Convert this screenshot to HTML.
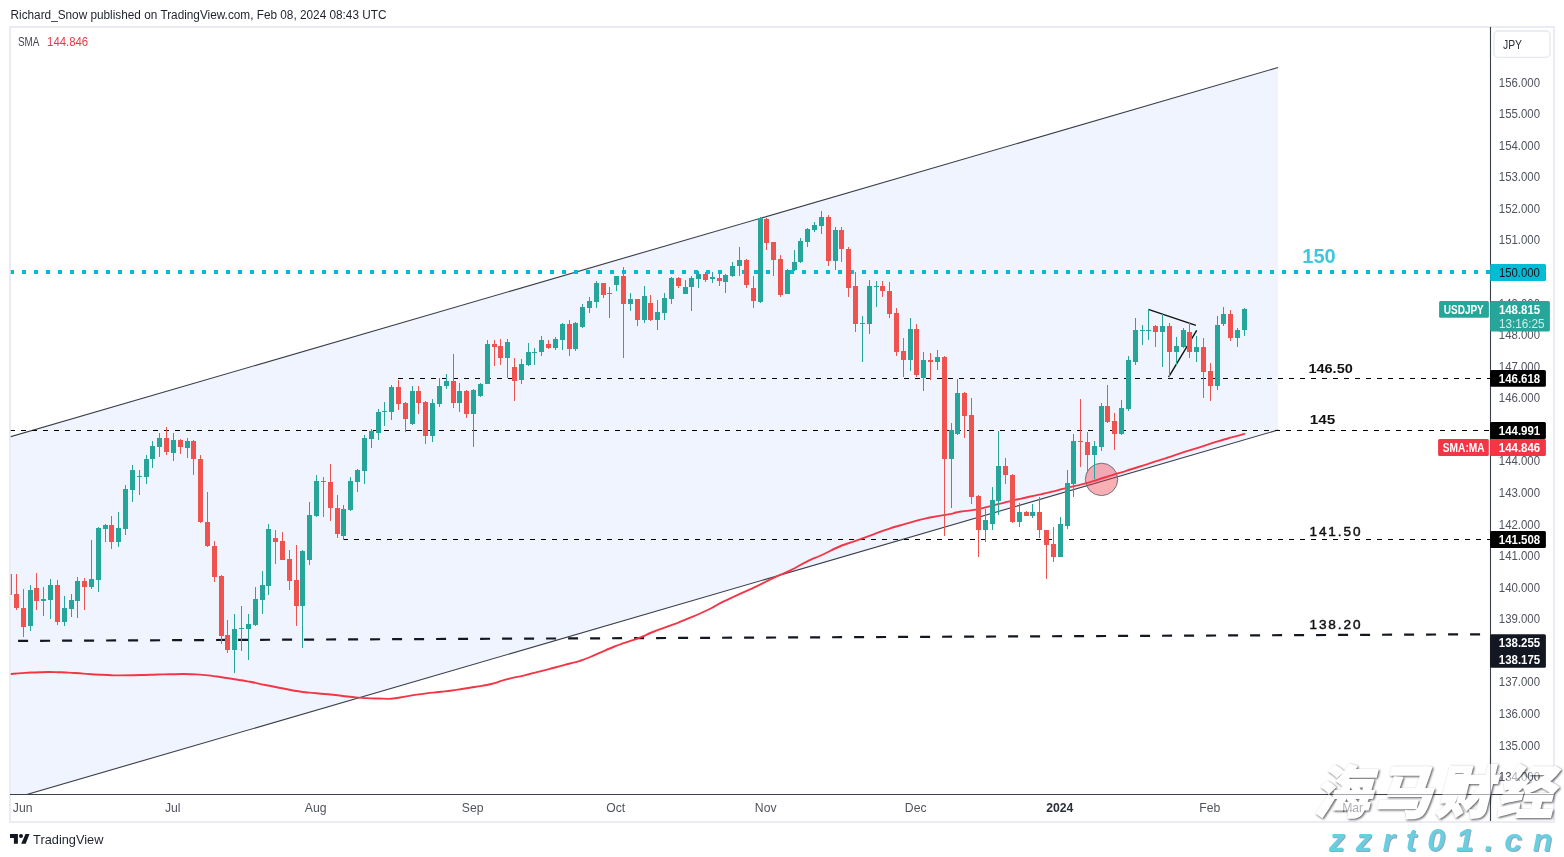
<!DOCTYPE html>
<html lang="en"><head><meta charset="utf-8"><title>USDJPY chart</title>
<style>html,body{margin:0;padding:0;background:#fff}body{width:1564px;height:857px;overflow:hidden;position:relative;font-family:"Liberation Sans", sans-serif}svg{display:block;position:absolute;left:0;top:0}text{font-family:"Liberation Sans", sans-serif}</style></head><body>
<svg width="1564" height="857" viewBox="0 0 1564 857">
<defs><clipPath id="plot"><rect x="10.8" y="28" width="1479.2" height="766"/></clipPath></defs>
<rect x="0" y="0" width="1564" height="857" fill="#fff"/>
<rect x="10" y="27" width="1544" height="795" fill="none" stroke="#e9ebf3" stroke-width="1.9"/>
<text x="10.5" y="18.8" font-size="12" fill="#1e222d" textLength="376" lengthAdjust="spacingAndGlyphs">Richard_Snow published on TradingView.com, Feb 08, 2024 08:43 UTC</text>
<g clip-path="url(#plot)">
<polygon points="0.0,439.8 1278.0,67.5 1278.0,430.0 0.0,802.3" fill="#f0f4fe"/>
<line x1="0" y1="439.8" x2="1278" y2="67.5" stroke="#3a3e4a" stroke-width="1.1"/>
<line x1="0" y1="802.3" x2="1278" y2="430.0" stroke="#3a3e4a" stroke-width="1.1"/>
<line x1="10" y1="272" x2="1490" y2="272" stroke="#00bcd4" stroke-width="4" stroke-dasharray="4 8"/>
<line x1="398" y1="378.5" x2="1490" y2="378.5" stroke="#000" stroke-width="1.2" stroke-dasharray="5 6"/>
<line x1="10" y1="430.5" x2="1490" y2="430.5" stroke="#000" stroke-width="1.2" stroke-dasharray="5 6"/>
<line x1="343" y1="539.5" x2="1490" y2="539.5" stroke="#000" stroke-width="1.2" stroke-dasharray="5 6"/>
<line x1="18.1" y1="640.9" x2="1484" y2="634.3" stroke="#131722" stroke-width="2.2" stroke-dasharray="10 12"/>
<circle cx="1101.5" cy="479.4" r="16.2" fill="#f23645" fill-opacity="0.4" stroke="#6f727b" stroke-width="1"/>
<line x1="1148.3" y1="309.4" x2="1195.9" y2="325.4" stroke="#111" stroke-width="1.4"/>
<line x1="1168.6" y1="377.1" x2="1196.7" y2="330.3" stroke="#111" stroke-width="1.4"/>
<path d="M10.3 674.0C15.2 673.6 14.5 673.5 24.9 672.9C35.3 672.3 30.5 672.4 41.6 672.2C52.7 672.0 47.1 671.9 58.2 672.2C69.3 672.5 63.7 672.3 74.8 673.0C85.9 673.7 80.3 673.5 91.4 674.2C102.5 674.9 98.7 674.6 108.1 675.0C117.5 675.4 108.6 675.4 119.7 675.4C130.8 675.4 128.6 675.3 141.3 675.0C154.0 674.7 146.8 674.8 157.9 674.5C169.0 674.2 163.5 674.3 174.6 674.2C185.7 674.1 180.1 673.8 191.2 674.2C202.3 674.6 196.7 674.2 207.8 675.4C218.9 676.6 213.3 676.1 224.4 677.7C235.5 679.3 232.6 678.9 241.1 680.3C249.6 681.7 241.5 680.2 250.0 681.8C258.5 683.4 255.5 683.0 266.6 685.2C277.7 687.4 272.2 686.4 283.3 688.5C294.4 690.6 288.8 689.9 299.9 691.5C311.0 693.1 305.4 692.1 316.5 693.2C327.6 694.3 322.0 693.6 333.1 694.8C344.2 696.0 338.7 695.7 349.8 696.8C360.9 697.9 355.3 697.5 366.4 698.1C377.5 698.7 374.1 698.5 383.0 698.6C391.9 698.7 384.7 699.3 393.0 698.5C401.3 697.7 397.4 697.7 407.9 696.1C418.4 694.5 413.5 695.0 424.6 693.6C435.7 692.2 430.1 693.1 441.2 691.8C452.3 690.5 446.7 691.2 457.8 689.6C468.9 688.0 463.3 688.9 474.4 687.0C485.5 685.1 480.4 686.5 491.1 684.0C501.8 681.5 494.7 682.5 506.5 679.4C518.3 676.3 512.6 678.2 526.5 674.8C540.4 671.4 534.3 672.9 548.1 669.3C561.9 665.7 556.4 667.2 568.0 664.0C579.6 660.8 573.0 663.3 583.0 659.8C593.0 656.3 587.4 658.0 597.9 653.6C608.4 649.2 603.5 650.8 614.6 646.5C625.7 642.2 621.8 644.0 631.2 640.7C640.6 637.4 635.6 639.4 642.8 636.5C650.0 633.6 642.8 636.0 652.8 632.0C662.8 628.0 661.7 628.8 672.8 624.6C683.9 620.4 674.7 624.1 686.0 619.4C697.3 614.7 694.2 616.4 706.6 610.5C719.0 604.6 712.2 607.2 723.3 601.7C734.4 596.2 728.8 599.0 739.9 593.9C751.0 588.8 745.4 591.7 756.5 586.4C767.6 581.1 762.0 583.4 773.1 578.1C784.2 572.8 778.7 576.0 789.8 570.6C800.9 565.2 795.3 567.2 806.4 561.8C817.5 556.4 811.9 559.6 823.0 554.5C834.1 549.4 828.5 551.1 839.6 546.5C850.7 541.9 845.2 544.7 856.3 540.7C867.4 536.7 861.8 538.6 872.9 534.6C884.0 530.6 878.4 532.2 889.5 528.6C900.6 525.0 895.0 526.9 906.1 523.7C917.2 520.5 911.7 521.7 922.8 519.1C933.9 516.5 930.3 517.6 939.4 515.9C948.5 514.2 943.2 515.5 950.0 514.1C956.8 512.7 951.2 513.3 959.8 511.8C968.4 510.3 965.8 511.4 975.7 509.6C985.6 507.8 978.4 509.1 989.6 506.3C1000.8 503.5 996.2 504.5 1009.4 501.3C1022.6 498.1 1016.0 499.8 1029.2 496.8C1042.4 493.8 1036.5 495.4 1049.1 492.4C1061.7 489.4 1054.3 490.9 1066.9 487.8C1079.5 484.7 1074.2 486.5 1086.8 483.1C1099.4 479.7 1094.0 480.8 1104.6 477.5C1115.2 474.2 1107.3 476.7 1118.5 473.2C1129.7 469.7 1125.1 471.2 1138.3 467.0C1151.5 462.8 1145.0 465.0 1158.2 460.7C1171.4 456.4 1164.8 458.4 1178.0 454.1C1191.2 449.8 1184.6 452.0 1197.8 447.8C1211.0 443.6 1205.8 445.0 1217.7 441.4C1229.6 437.8 1224.6 439.4 1233.5 436.9C1242.4 434.4 1240.8 434.9 1244.4 433.9" fill="none" stroke="#f23645" stroke-width="1.9" stroke-linejoin="round" stroke-linecap="round"/>
<rect x="9.0" y="573" width="1" height="23" fill="#ef5350"/><rect x="7.0" y="574" width="5" height="21" fill="#ef5350"/>
<rect x="16.0" y="574" width="1" height="36" fill="#ef5350"/><rect x="14.0" y="594" width="5" height="14" fill="#ef5350"/>
<rect x="23.0" y="589" width="1" height="48" fill="#ef5350"/><rect x="21.0" y="608" width="5" height="19" fill="#ef5350"/>
<rect x="30.0" y="585" width="1" height="46" fill="#26a69a"/><rect x="28.0" y="590" width="5" height="36" fill="#26a69a"/>
<rect x="36.0" y="573" width="1" height="37" fill="#ef5350"/><rect x="34.0" y="588" width="5" height="13" fill="#ef5350"/>
<rect x="43.0" y="587" width="1" height="29" fill="#26a69a"/><rect x="41.0" y="599" width="5" height="2" fill="#26a69a"/>
<rect x="50.0" y="579" width="1" height="40" fill="#26a69a"/><rect x="48.0" y="585" width="5" height="15" fill="#26a69a"/>
<rect x="57.0" y="580" width="1" height="45" fill="#ef5350"/><rect x="55.0" y="585" width="5" height="37" fill="#ef5350"/>
<rect x="64.0" y="596" width="1" height="30" fill="#26a69a"/><rect x="62.0" y="608" width="5" height="14" fill="#26a69a"/>
<rect x="71.0" y="594" width="1" height="23" fill="#26a69a"/><rect x="69.0" y="600" width="5" height="9" fill="#26a69a"/>
<rect x="77.0" y="577" width="1" height="41" fill="#26a69a"/><rect x="75.0" y="581" width="5" height="20" fill="#26a69a"/>
<rect x="84.0" y="578" width="1" height="32" fill="#ef5350"/><rect x="82.0" y="581" width="5" height="6" fill="#ef5350"/>
<rect x="91.0" y="540" width="1" height="49" fill="#26a69a"/><rect x="89.0" y="579" width="5" height="8" fill="#26a69a"/>
<rect x="98.0" y="527" width="1" height="65" fill="#26a69a"/><rect x="96.0" y="528" width="5" height="52" fill="#26a69a"/>
<rect x="105.0" y="524" width="1" height="18" fill="#26a69a"/><rect x="103.0" y="525" width="5" height="4" fill="#26a69a"/>
<rect x="111.0" y="516" width="1" height="33" fill="#ef5350"/><rect x="109.0" y="525" width="5" height="17" fill="#ef5350"/>
<rect x="118.0" y="512" width="1" height="35" fill="#26a69a"/><rect x="116.0" y="528" width="5" height="14" fill="#26a69a"/>
<rect x="125.0" y="485" width="1" height="50" fill="#26a69a"/><rect x="123.0" y="489" width="5" height="40" fill="#26a69a"/>
<rect x="132.0" y="465" width="1" height="37" fill="#26a69a"/><rect x="130.0" y="470" width="5" height="20" fill="#26a69a"/>
<rect x="139.0" y="470" width="1" height="25" fill="#26a69a"/><rect x="137.0" y="476" width="5" height="1" fill="#26a69a"/>
<rect x="146.0" y="455" width="1" height="29" fill="#26a69a"/><rect x="144.0" y="459" width="5" height="18" fill="#26a69a"/>
<rect x="152.0" y="441" width="1" height="27" fill="#26a69a"/><rect x="150.0" y="446" width="5" height="13" fill="#26a69a"/>
<rect x="159.0" y="433" width="1" height="24" fill="#26a69a"/><rect x="157.0" y="438" width="5" height="9" fill="#26a69a"/>
<rect x="166.0" y="427" width="1" height="28" fill="#ef5350"/><rect x="164.0" y="438" width="5" height="14" fill="#ef5350"/>
<rect x="173.0" y="433" width="1" height="28" fill="#26a69a"/><rect x="171.0" y="440" width="5" height="13" fill="#26a69a"/>
<rect x="180.0" y="439" width="1" height="15" fill="#ef5350"/><rect x="178.0" y="440" width="5" height="7" fill="#ef5350"/>
<rect x="187.0" y="438" width="1" height="20" fill="#26a69a"/><rect x="185.0" y="441" width="5" height="7" fill="#26a69a"/>
<rect x="193.0" y="440" width="1" height="35" fill="#ef5350"/><rect x="191.0" y="441" width="5" height="18" fill="#ef5350"/>
<rect x="200.0" y="455" width="1" height="68" fill="#ef5350"/><rect x="198.0" y="459" width="5" height="63" fill="#ef5350"/>
<rect x="207.0" y="492" width="1" height="55" fill="#ef5350"/><rect x="205.0" y="522" width="5" height="24" fill="#ef5350"/>
<rect x="214.0" y="541" width="1" height="41" fill="#ef5350"/><rect x="212.0" y="546" width="5" height="31" fill="#ef5350"/>
<rect x="221.0" y="575" width="1" height="69" fill="#ef5350"/><rect x="219.0" y="576" width="5" height="60" fill="#ef5350"/>
<rect x="227.0" y="620" width="1" height="33" fill="#ef5350"/><rect x="225.0" y="635" width="5" height="15" fill="#ef5350"/>
<rect x="234.0" y="614" width="1" height="59" fill="#26a69a"/><rect x="232.0" y="629" width="5" height="21" fill="#26a69a"/>
<rect x="241.0" y="606" width="1" height="45" fill="#26a69a"/><rect x="239.0" y="628" width="5" height="1" fill="#26a69a"/>
<rect x="248.0" y="614" width="1" height="46" fill="#26a69a"/><rect x="246.0" y="624" width="5" height="5" fill="#26a69a"/>
<rect x="255.0" y="587" width="1" height="39" fill="#26a69a"/><rect x="253.0" y="599" width="5" height="26" fill="#26a69a"/>
<rect x="262.0" y="571" width="1" height="43" fill="#26a69a"/><rect x="260.0" y="585" width="5" height="15" fill="#26a69a"/>
<rect x="268.0" y="524" width="1" height="71" fill="#26a69a"/><rect x="266.0" y="529" width="5" height="57" fill="#26a69a"/>
<rect x="275.0" y="530" width="1" height="34" fill="#ef5350"/><rect x="273.0" y="538" width="5" height="4" fill="#ef5350"/>
<rect x="282.0" y="532" width="1" height="28" fill="#ef5350"/><rect x="280.0" y="541" width="5" height="19" fill="#ef5350"/>
<rect x="289.0" y="550" width="1" height="40" fill="#ef5350"/><rect x="287.0" y="559" width="5" height="22" fill="#ef5350"/>
<rect x="296.0" y="545" width="1" height="81" fill="#ef5350"/><rect x="294.0" y="580" width="5" height="26" fill="#ef5350"/>
<rect x="302.0" y="550" width="1" height="98" fill="#26a69a"/><rect x="300.0" y="551" width="5" height="55" fill="#26a69a"/>
<rect x="309.0" y="502" width="1" height="63" fill="#26a69a"/><rect x="307.0" y="515" width="5" height="45" fill="#26a69a"/>
<rect x="316.0" y="475" width="1" height="42" fill="#26a69a"/><rect x="314.0" y="481" width="5" height="35" fill="#26a69a"/>
<rect x="323.0" y="477" width="1" height="40" fill="#ef5350"/><rect x="321.0" y="481" width="5" height="1" fill="#ef5350"/>
<rect x="330.0" y="464" width="1" height="57" fill="#ef5350"/><rect x="328.0" y="482" width="5" height="26" fill="#ef5350"/>
<rect x="337.0" y="495" width="1" height="43" fill="#ef5350"/><rect x="335.0" y="508" width="5" height="26" fill="#ef5350"/>
<rect x="343.0" y="505" width="1" height="35" fill="#26a69a"/><rect x="341.0" y="509" width="5" height="27" fill="#26a69a"/>
<rect x="350.0" y="477" width="1" height="34" fill="#26a69a"/><rect x="348.0" y="481" width="5" height="29" fill="#26a69a"/>
<rect x="357.0" y="469" width="1" height="23" fill="#26a69a"/><rect x="355.0" y="470" width="5" height="12" fill="#26a69a"/>
<rect x="364.0" y="435" width="1" height="49" fill="#26a69a"/><rect x="362.0" y="438" width="5" height="33" fill="#26a69a"/>
<rect x="371.0" y="429" width="1" height="19" fill="#26a69a"/><rect x="369.0" y="431" width="5" height="8" fill="#26a69a"/>
<rect x="378.0" y="409" width="1" height="31" fill="#26a69a"/><rect x="376.0" y="412" width="5" height="21" fill="#26a69a"/>
<rect x="384.0" y="402" width="1" height="24" fill="#26a69a"/><rect x="382.0" y="411" width="5" height="1" fill="#26a69a"/>
<rect x="391.0" y="385" width="1" height="35" fill="#26a69a"/><rect x="389.0" y="387" width="5" height="25" fill="#26a69a"/>
<rect x="398.0" y="380" width="1" height="30" fill="#ef5350"/><rect x="396.0" y="387" width="5" height="17" fill="#ef5350"/>
<rect x="405.0" y="402" width="1" height="30" fill="#ef5350"/><rect x="403.0" y="403" width="5" height="16" fill="#ef5350"/>
<rect x="412.0" y="386" width="1" height="39" fill="#26a69a"/><rect x="410.0" y="391" width="5" height="33" fill="#26a69a"/>
<rect x="418.0" y="386" width="1" height="28" fill="#ef5350"/><rect x="416.0" y="391" width="5" height="12" fill="#ef5350"/>
<rect x="425.0" y="401" width="1" height="43" fill="#ef5350"/><rect x="423.0" y="402" width="5" height="34" fill="#ef5350"/>
<rect x="432.0" y="399" width="1" height="43" fill="#26a69a"/><rect x="430.0" y="403" width="5" height="33" fill="#26a69a"/>
<rect x="439.0" y="378" width="1" height="29" fill="#26a69a"/><rect x="437.0" y="386" width="5" height="18" fill="#26a69a"/>
<rect x="446.0" y="374" width="1" height="15" fill="#26a69a"/><rect x="444.0" y="381" width="5" height="5" fill="#26a69a"/>
<rect x="453.0" y="354" width="1" height="54" fill="#ef5350"/><rect x="451.0" y="381" width="5" height="22" fill="#ef5350"/>
<rect x="459.0" y="383" width="1" height="29" fill="#26a69a"/><rect x="457.0" y="391" width="5" height="12" fill="#26a69a"/>
<rect x="466.0" y="390" width="1" height="28" fill="#ef5350"/><rect x="464.0" y="391" width="5" height="23" fill="#ef5350"/>
<rect x="473.0" y="389" width="1" height="58" fill="#26a69a"/><rect x="471.0" y="390" width="5" height="24" fill="#26a69a"/>
<rect x="480.0" y="383" width="1" height="14" fill="#26a69a"/><rect x="478.0" y="384" width="5" height="12" fill="#26a69a"/>
<rect x="487.0" y="340" width="1" height="44" fill="#26a69a"/><rect x="485.0" y="344" width="5" height="40" fill="#26a69a"/>
<rect x="494.0" y="340" width="1" height="26" fill="#ef5350"/><rect x="492.0" y="344" width="5" height="3" fill="#ef5350"/>
<rect x="500.0" y="339" width="1" height="26" fill="#ef5350"/><rect x="498.0" y="346" width="5" height="12" fill="#ef5350"/>
<rect x="507.0" y="339" width="1" height="39" fill="#26a69a"/><rect x="505.0" y="342" width="5" height="16" fill="#26a69a"/>
<rect x="514.0" y="358" width="1" height="43" fill="#ef5350"/><rect x="512.0" y="367" width="5" height="14" fill="#ef5350"/>
<rect x="521.0" y="359" width="1" height="25" fill="#26a69a"/><rect x="519.0" y="364" width="5" height="16" fill="#26a69a"/>
<rect x="528.0" y="343" width="1" height="23" fill="#26a69a"/><rect x="526.0" y="352" width="5" height="13" fill="#26a69a"/>
<rect x="534.0" y="348" width="1" height="17" fill="#26a69a"/><rect x="532.0" y="352" width="5" height="1" fill="#26a69a"/>
<rect x="541.0" y="336" width="1" height="20" fill="#26a69a"/><rect x="539.0" y="340" width="5" height="12" fill="#26a69a"/>
<rect x="548.0" y="340" width="1" height="9" fill="#ef5350"/><rect x="546.0" y="344" width="5" height="4" fill="#ef5350"/>
<rect x="555.0" y="337" width="1" height="13" fill="#26a69a"/><rect x="553.0" y="339" width="5" height="9" fill="#26a69a"/>
<rect x="562.0" y="323" width="1" height="27" fill="#26a69a"/><rect x="560.0" y="324" width="5" height="16" fill="#26a69a"/>
<rect x="569.0" y="320" width="1" height="36" fill="#ef5350"/><rect x="567.0" y="324" width="5" height="25" fill="#ef5350"/>
<rect x="575.0" y="322" width="1" height="29" fill="#26a69a"/><rect x="573.0" y="323" width="5" height="26" fill="#26a69a"/>
<rect x="582.0" y="304" width="1" height="24" fill="#26a69a"/><rect x="580.0" y="307" width="5" height="20" fill="#26a69a"/>
<rect x="589.0" y="297" width="1" height="16" fill="#26a69a"/><rect x="587.0" y="301" width="5" height="7" fill="#26a69a"/>
<rect x="596.0" y="281" width="1" height="27" fill="#26a69a"/><rect x="594.0" y="283" width="5" height="19" fill="#26a69a"/>
<rect x="603.0" y="283" width="1" height="15" fill="#ef5350"/><rect x="601.0" y="283" width="5" height="12" fill="#ef5350"/>
<rect x="609.0" y="287" width="1" height="31" fill="#26a69a"/><rect x="607.0" y="293" width="5" height="1" fill="#26a69a"/>
<rect x="616.0" y="276" width="1" height="15" fill="#26a69a"/><rect x="614.0" y="276" width="5" height="9" fill="#26a69a"/>
<rect x="623.0" y="267" width="1" height="91" fill="#ef5350"/><rect x="621.0" y="276" width="5" height="28" fill="#ef5350"/>
<rect x="630.0" y="293" width="1" height="18" fill="#26a69a"/><rect x="628.0" y="299" width="5" height="5" fill="#26a69a"/>
<rect x="637.0" y="299" width="1" height="27" fill="#ef5350"/><rect x="635.0" y="299" width="5" height="21" fill="#ef5350"/>
<rect x="644.0" y="286" width="1" height="37" fill="#26a69a"/><rect x="642.0" y="296" width="5" height="24" fill="#26a69a"/>
<rect x="650.0" y="295" width="1" height="26" fill="#ef5350"/><rect x="648.0" y="303" width="5" height="17" fill="#ef5350"/>
<rect x="657.0" y="300" width="1" height="30" fill="#26a69a"/><rect x="655.0" y="312" width="5" height="8" fill="#26a69a"/>
<rect x="664.0" y="293" width="1" height="27" fill="#26a69a"/><rect x="662.0" y="298" width="5" height="15" fill="#26a69a"/>
<rect x="671.0" y="277" width="1" height="27" fill="#26a69a"/><rect x="669.0" y="278" width="5" height="21" fill="#26a69a"/>
<rect x="678.0" y="277" width="1" height="11" fill="#ef5350"/><rect x="676.0" y="278" width="5" height="8" fill="#ef5350"/>
<rect x="685.0" y="280" width="1" height="14" fill="#26a69a"/><rect x="683.0" y="287" width="5" height="7" fill="#26a69a"/>
<rect x="691.0" y="276" width="1" height="35" fill="#26a69a"/><rect x="689.0" y="278" width="5" height="9" fill="#26a69a"/>
<rect x="698.0" y="271" width="1" height="17" fill="#26a69a"/><rect x="696.0" y="274" width="5" height="5" fill="#26a69a"/>
<rect x="705.0" y="272" width="1" height="10" fill="#ef5350"/><rect x="703.0" y="274" width="5" height="6" fill="#ef5350"/>
<rect x="712.0" y="272" width="1" height="11" fill="#26a69a"/><rect x="710.0" y="277" width="5" height="2" fill="#26a69a"/>
<rect x="719.0" y="272" width="1" height="14" fill="#ef5350"/><rect x="717.0" y="278" width="5" height="3" fill="#ef5350"/>
<rect x="725.0" y="274" width="1" height="19" fill="#26a69a"/><rect x="723.0" y="275" width="5" height="7" fill="#26a69a"/>
<rect x="732.0" y="262" width="1" height="15" fill="#26a69a"/><rect x="730.0" y="266" width="5" height="10" fill="#26a69a"/>
<rect x="739.0" y="247" width="1" height="29" fill="#26a69a"/><rect x="737.0" y="260" width="5" height="6" fill="#26a69a"/>
<rect x="746.0" y="259" width="1" height="29" fill="#ef5350"/><rect x="744.0" y="260" width="5" height="25" fill="#ef5350"/>
<rect x="753.0" y="276" width="1" height="32" fill="#ef5350"/><rect x="751.0" y="288" width="5" height="13" fill="#ef5350"/>
<rect x="760.0" y="217" width="1" height="86" fill="#26a69a"/><rect x="758.0" y="218" width="5" height="84" fill="#26a69a"/>
<rect x="766.0" y="218" width="1" height="32" fill="#ef5350"/><rect x="764.0" y="219" width="5" height="24" fill="#ef5350"/>
<rect x="773.0" y="242" width="1" height="34" fill="#ef5350"/><rect x="771.0" y="242" width="5" height="18" fill="#ef5350"/>
<rect x="780.0" y="255" width="1" height="42" fill="#ef5350"/><rect x="778.0" y="259" width="5" height="36" fill="#ef5350"/>
<rect x="787.0" y="269" width="1" height="25" fill="#26a69a"/><rect x="785.0" y="270" width="5" height="24" fill="#26a69a"/>
<rect x="794.0" y="250" width="1" height="21" fill="#26a69a"/><rect x="792.0" y="262" width="5" height="8" fill="#26a69a"/>
<rect x="800.0" y="238" width="1" height="25" fill="#26a69a"/><rect x="798.0" y="241" width="5" height="21" fill="#26a69a"/>
<rect x="807.0" y="228" width="1" height="19" fill="#26a69a"/><rect x="805.0" y="229" width="5" height="13" fill="#26a69a"/>
<rect x="814.0" y="222" width="1" height="10" fill="#26a69a"/><rect x="812.0" y="225" width="5" height="5" fill="#26a69a"/>
<rect x="821.0" y="211" width="1" height="23" fill="#26a69a"/><rect x="819.0" y="217" width="5" height="9" fill="#26a69a"/>
<rect x="828.0" y="215" width="1" height="51" fill="#ef5350"/><rect x="826.0" y="217" width="5" height="44" fill="#ef5350"/>
<rect x="835.0" y="227" width="1" height="43" fill="#26a69a"/><rect x="833.0" y="230" width="5" height="31" fill="#26a69a"/>
<rect x="841.0" y="227" width="1" height="35" fill="#ef5350"/><rect x="839.0" y="230" width="5" height="19" fill="#ef5350"/>
<rect x="848.0" y="247" width="1" height="50" fill="#ef5350"/><rect x="846.0" y="249" width="5" height="39" fill="#ef5350"/>
<rect x="855.0" y="272" width="1" height="60" fill="#ef5350"/><rect x="853.0" y="286" width="5" height="38" fill="#ef5350"/>
<rect x="862.0" y="316" width="1" height="46" fill="#26a69a"/><rect x="860.0" y="323" width="5" height="1" fill="#26a69a"/>
<rect x="869.0" y="280" width="1" height="54" fill="#26a69a"/><rect x="867.0" y="286" width="5" height="38" fill="#26a69a"/>
<rect x="876.0" y="281" width="1" height="26" fill="#26a69a"/><rect x="874.0" y="286" width="5" height="1" fill="#26a69a"/>
<rect x="882.0" y="281" width="1" height="16" fill="#ef5350"/><rect x="880.0" y="286" width="5" height="5" fill="#ef5350"/>
<rect x="889.0" y="282" width="1" height="36" fill="#ef5350"/><rect x="887.0" y="291" width="5" height="23" fill="#ef5350"/>
<rect x="896.0" y="308" width="1" height="48" fill="#ef5350"/><rect x="894.0" y="313" width="5" height="39" fill="#ef5350"/>
<rect x="903.0" y="338" width="1" height="39" fill="#ef5350"/><rect x="901.0" y="351" width="5" height="9" fill="#ef5350"/>
<rect x="910.0" y="318" width="1" height="53" fill="#26a69a"/><rect x="908.0" y="329" width="5" height="31" fill="#26a69a"/>
<rect x="916.0" y="324" width="1" height="53" fill="#ef5350"/><rect x="914.0" y="329" width="5" height="46" fill="#ef5350"/>
<rect x="923.0" y="352" width="1" height="39" fill="#26a69a"/><rect x="921.0" y="360" width="5" height="18" fill="#26a69a"/>
<rect x="930.0" y="353" width="1" height="27" fill="#ef5350"/><rect x="928.0" y="360" width="5" height="2" fill="#ef5350"/>
<rect x="937.0" y="350" width="1" height="20" fill="#26a69a"/><rect x="935.0" y="357" width="5" height="5" fill="#26a69a"/>
<rect x="944.0" y="356" width="1" height="180" fill="#ef5350"/><rect x="942.0" y="357" width="5" height="102" fill="#ef5350"/>
<rect x="951.0" y="423" width="1" height="85" fill="#26a69a"/><rect x="949.0" y="430" width="5" height="29" fill="#26a69a"/>
<rect x="957.0" y="379" width="1" height="56" fill="#26a69a"/><rect x="955.0" y="393" width="5" height="41" fill="#26a69a"/>
<rect x="964.0" y="392" width="1" height="46" fill="#ef5350"/><rect x="962.0" y="393" width="5" height="23" fill="#ef5350"/>
<rect x="971.0" y="398" width="1" height="106" fill="#ef5350"/><rect x="969.0" y="415" width="5" height="82" fill="#ef5350"/>
<rect x="978.0" y="495" width="1" height="62" fill="#ef5350"/><rect x="976.0" y="496" width="5" height="34" fill="#ef5350"/>
<rect x="985.0" y="509" width="1" height="33" fill="#26a69a"/><rect x="983.0" y="520" width="5" height="10" fill="#26a69a"/>
<rect x="992.0" y="487" width="1" height="43" fill="#26a69a"/><rect x="990.0" y="500" width="5" height="24" fill="#26a69a"/>
<rect x="998.0" y="431" width="1" height="84" fill="#26a69a"/><rect x="996.0" y="466" width="5" height="35" fill="#26a69a"/>
<rect x="1005.0" y="458" width="1" height="26" fill="#ef5350"/><rect x="1003.0" y="466" width="5" height="9" fill="#ef5350"/>
<rect x="1012.0" y="474" width="1" height="49" fill="#ef5350"/><rect x="1010.0" y="475" width="5" height="47" fill="#ef5350"/>
<rect x="1019.0" y="503" width="1" height="24" fill="#26a69a"/><rect x="1017.0" y="512" width="5" height="10" fill="#26a69a"/>
<rect x="1026.0" y="511" width="1" height="5" fill="#ef5350"/><rect x="1024.0" y="512" width="5" height="4" fill="#ef5350"/>
<rect x="1032.0" y="504" width="1" height="14" fill="#26a69a"/><rect x="1030.0" y="512" width="5" height="4" fill="#26a69a"/>
<rect x="1039.0" y="497" width="1" height="41" fill="#ef5350"/><rect x="1037.0" y="512" width="5" height="18" fill="#ef5350"/>
<rect x="1046.0" y="530" width="1" height="49" fill="#ef5350"/><rect x="1044.0" y="530" width="5" height="15" fill="#ef5350"/>
<rect x="1053.0" y="527" width="1" height="35" fill="#ef5350"/><rect x="1051.0" y="544" width="5" height="13" fill="#ef5350"/>
<rect x="1060.0" y="517" width="1" height="40" fill="#26a69a"/><rect x="1058.0" y="524" width="5" height="33" fill="#26a69a"/>
<rect x="1067.0" y="470" width="1" height="59" fill="#26a69a"/><rect x="1065.0" y="483" width="5" height="43" fill="#26a69a"/>
<rect x="1073.0" y="434" width="1" height="63" fill="#26a69a"/><rect x="1071.0" y="441" width="5" height="43" fill="#26a69a"/>
<rect x="1080.0" y="399" width="1" height="68" fill="#ef5350"/><rect x="1078.0" y="441" width="5" height="1" fill="#ef5350"/>
<rect x="1087.0" y="432" width="1" height="41" fill="#ef5350"/><rect x="1085.0" y="442" width="5" height="13" fill="#ef5350"/>
<rect x="1094.0" y="441" width="1" height="38" fill="#26a69a"/><rect x="1092.0" y="446" width="5" height="9" fill="#26a69a"/>
<rect x="1101.0" y="403" width="1" height="48" fill="#26a69a"/><rect x="1099.0" y="406" width="5" height="41" fill="#26a69a"/>
<rect x="1107.0" y="385" width="1" height="38" fill="#ef5350"/><rect x="1105.0" y="406" width="5" height="16" fill="#ef5350"/>
<rect x="1114.0" y="413" width="1" height="37" fill="#ef5350"/><rect x="1112.0" y="421" width="5" height="13" fill="#ef5350"/>
<rect x="1121.0" y="400" width="1" height="35" fill="#26a69a"/><rect x="1119.0" y="408" width="5" height="26" fill="#26a69a"/>
<rect x="1128.0" y="356" width="1" height="55" fill="#26a69a"/><rect x="1126.0" y="360" width="5" height="49" fill="#26a69a"/>
<rect x="1135.0" y="318" width="1" height="47" fill="#26a69a"/><rect x="1133.0" y="330" width="5" height="32" fill="#26a69a"/>
<rect x="1142.0" y="325" width="1" height="20" fill="#26a69a"/><rect x="1140.0" y="330" width="5" height="1" fill="#26a69a"/>
<rect x="1148.0" y="309" width="1" height="31" fill="#26a69a"/><rect x="1146.0" y="330" width="5" height="1" fill="#26a69a"/>
<rect x="1155.0" y="325" width="1" height="22" fill="#ef5350"/><rect x="1153.0" y="326" width="5" height="6" fill="#ef5350"/>
<rect x="1162.0" y="314" width="1" height="53" fill="#26a69a"/><rect x="1160.0" y="326" width="5" height="6" fill="#26a69a"/>
<rect x="1169.0" y="323" width="1" height="54" fill="#ef5350"/><rect x="1167.0" y="326" width="5" height="26" fill="#ef5350"/>
<rect x="1176.0" y="337" width="1" height="28" fill="#26a69a"/><rect x="1174.0" y="346" width="5" height="6" fill="#26a69a"/>
<rect x="1183.0" y="328" width="1" height="20" fill="#26a69a"/><rect x="1181.0" y="330" width="5" height="17" fill="#26a69a"/>
<rect x="1189.0" y="323" width="1" height="35" fill="#ef5350"/><rect x="1187.0" y="332" width="5" height="20" fill="#ef5350"/>
<rect x="1196.0" y="336" width="1" height="26" fill="#26a69a"/><rect x="1194.0" y="347" width="5" height="5" fill="#26a69a"/>
<rect x="1203.0" y="338" width="1" height="60" fill="#ef5350"/><rect x="1201.0" y="347" width="5" height="25" fill="#ef5350"/>
<rect x="1210.0" y="363" width="1" height="38" fill="#ef5350"/><rect x="1208.0" y="371" width="5" height="15" fill="#ef5350"/>
<rect x="1217.0" y="316" width="1" height="74" fill="#26a69a"/><rect x="1215.0" y="325" width="5" height="61" fill="#26a69a"/>
<rect x="1223.0" y="307" width="1" height="19" fill="#26a69a"/><rect x="1221.0" y="314" width="5" height="10" fill="#26a69a"/>
<rect x="1230.0" y="310" width="1" height="31" fill="#ef5350"/><rect x="1228.0" y="314" width="5" height="24" fill="#ef5350"/>
<rect x="1237.0" y="328" width="1" height="19" fill="#26a69a"/><rect x="1235.0" y="330" width="5" height="8" fill="#26a69a"/>
<rect x="1244.0" y="308" width="1" height="28" fill="#26a69a"/><rect x="1242.0" y="309" width="5" height="21" fill="#26a69a"/>
</g>
<text x="1302.3" y="262.9" font-size="20" font-weight="bold" fill="#3ec8dc">150</text>
<text x="1308.4" y="372.9" font-size="13.6" font-weight="bold" fill="#111" textLength="44.4" lengthAdjust="spacingAndGlyphs">146.50</text>
<text x="1309.7" y="424.1" font-size="13.6" font-weight="bold" fill="#111" textLength="25.6" lengthAdjust="spacingAndGlyphs">145</text>
<text x="1309.4" y="535.9" font-size="13.6" fill="#111" stroke="#111" stroke-width="0.45" textLength="51.2" lengthAdjust="spacing">141.50</text>
<text x="1309.4" y="628.9" font-size="13.6" fill="#111" stroke="#111" stroke-width="0.45" textLength="51.2" lengthAdjust="spacing">138.20</text>
<text x="17.9" y="45.7" font-size="12" fill="#434651" textLength="21.5" lengthAdjust="spacingAndGlyphs">SMA</text>
<text x="47.1" y="45.7" font-size="12" fill="#f23645" textLength="41.1" lengthAdjust="spacingAndGlyphs">144.846</text>
<line x1="1490.5" y1="27" x2="1490.5" y2="821" stroke="#3c404c" stroke-width="1.1"/>
<line x1="10" y1="794.5" x2="1554" y2="794.5" stroke="#3c404c" stroke-width="1.1"/>
<rect x="1494" y="31" width="56" height="26.3" rx="4" fill="#fff" stroke="#e6e8ef" stroke-width="1.3"/>
<text x="1503" y="48.7" font-size="12" fill="#2a2e39" textLength="19" lengthAdjust="spacingAndGlyphs">JPY</text>
<text x="1498.8" y="781.1" font-size="12.2" fill="#50535e" textLength="41.2" lengthAdjust="spacingAndGlyphs">134.000</text>
<text x="1498.8" y="749.6" font-size="12.2" fill="#50535e" textLength="41.2" lengthAdjust="spacingAndGlyphs">135.000</text>
<text x="1498.8" y="718.0" font-size="12.2" fill="#50535e" textLength="41.2" lengthAdjust="spacingAndGlyphs">136.000</text>
<text x="1498.8" y="686.4" font-size="12.2" fill="#50535e" textLength="41.2" lengthAdjust="spacingAndGlyphs">137.000</text>
<text x="1498.8" y="623.3" font-size="12.2" fill="#50535e" textLength="41.2" lengthAdjust="spacingAndGlyphs">139.000</text>
<text x="1498.8" y="591.7" font-size="12.2" fill="#50535e" textLength="41.2" lengthAdjust="spacingAndGlyphs">140.000</text>
<text x="1498.8" y="560.1" font-size="12.2" fill="#50535e" textLength="41.2" lengthAdjust="spacingAndGlyphs">141.000</text>
<text x="1498.8" y="528.6" font-size="12.2" fill="#50535e" textLength="41.2" lengthAdjust="spacingAndGlyphs">142.000</text>
<text x="1498.8" y="497.0" font-size="12.2" fill="#50535e" textLength="41.2" lengthAdjust="spacingAndGlyphs">143.000</text>
<text x="1498.8" y="465.4" font-size="12.2" fill="#50535e" textLength="41.2" lengthAdjust="spacingAndGlyphs">144.000</text>
<text x="1498.8" y="402.3" font-size="12.2" fill="#50535e" textLength="41.2" lengthAdjust="spacingAndGlyphs">146.000</text>
<text x="1498.8" y="370.7" font-size="12.2" fill="#50535e" textLength="41.2" lengthAdjust="spacingAndGlyphs">147.000</text>
<text x="1498.8" y="339.2" font-size="12.2" fill="#50535e" textLength="41.2" lengthAdjust="spacingAndGlyphs">148.000</text>
<text x="1498.8" y="307.6" font-size="12.2" fill="#50535e" textLength="41.2" lengthAdjust="spacingAndGlyphs">149.000</text>
<text x="1498.8" y="244.4" font-size="12.2" fill="#50535e" textLength="41.2" lengthAdjust="spacingAndGlyphs">151.000</text>
<text x="1498.8" y="212.9" font-size="12.2" fill="#50535e" textLength="41.2" lengthAdjust="spacingAndGlyphs">152.000</text>
<text x="1498.8" y="181.3" font-size="12.2" fill="#50535e" textLength="41.2" lengthAdjust="spacingAndGlyphs">153.000</text>
<text x="1498.8" y="149.7" font-size="12.2" fill="#50535e" textLength="41.2" lengthAdjust="spacingAndGlyphs">154.000</text>
<text x="1498.8" y="118.2" font-size="12.2" fill="#50535e" textLength="41.2" lengthAdjust="spacingAndGlyphs">155.000</text>
<text x="1498.8" y="86.6" font-size="12.2" fill="#50535e" textLength="41.2" lengthAdjust="spacingAndGlyphs">156.000</text>
<text x="22.7" y="812" font-size="12.2" text-anchor="middle" fill="#50535e">Jun</text>
<text x="172.7" y="812" font-size="12.2" text-anchor="middle" fill="#50535e">Jul</text>
<text x="315.7" y="812" font-size="12.2" text-anchor="middle" fill="#50535e">Aug</text>
<text x="472.7" y="812" font-size="12.2" text-anchor="middle" fill="#50535e">Sep</text>
<text x="615.7" y="812" font-size="12.2" text-anchor="middle" fill="#50535e">Oct</text>
<text x="765.7" y="812" font-size="12.2" text-anchor="middle" fill="#50535e">Nov</text>
<text x="915.7" y="812" font-size="12.2" text-anchor="middle" fill="#50535e">Dec</text>
<text x="1059.7" y="812" font-size="12.2" text-anchor="middle" fill="#2a2e39" font-weight="bold">2024</text>
<text x="1209.7" y="812" font-size="12.2" text-anchor="middle" fill="#50535e">Feb</text>
<text x="1352.7" y="812" font-size="12.2" text-anchor="middle" fill="#50535e">Mar</text>
<rect x="1490.1" y="263.9" width="55.9" height="17.1" rx="1.5" fill="#00bcd4"/>
<text x="1498.9" y="276.6" font-size="12.2" fill="#131722" textLength="41.0" lengthAdjust="spacingAndGlyphs">150.000</text>
<rect x="1439.1" y="301.1" width="49.8" height="16.6" rx="1.5" fill="#26a69a"/>
<text x="1443.8" y="313.7" font-size="12.2" fill="#fff" font-weight="bold" textLength="40.0" lengthAdjust="spacingAndGlyphs">USDJPY</text>
<rect x="1490.1" y="301.1" width="59.8" height="30.5" rx="1.5" fill="#26a69a"/>
<text x="1498.9" y="313.7" font-size="12.2" fill="#fff" font-weight="bold" textLength="41.2" lengthAdjust="spacingAndGlyphs">148.815</text>
<text x="1498.9" y="327.9" font-size="12.2" fill="#fff" fill-opacity="0.8" textLength="45.6" lengthAdjust="spacingAndGlyphs">13:16:25</text>
<rect x="1490.1" y="370.0" width="55.8" height="16.8" rx="1.5" fill="#000"/>
<text x="1498.8" y="382.7" font-size="12.2" fill="#fff" font-weight="bold" textLength="41.4" lengthAdjust="spacingAndGlyphs">146.618</text>
<rect x="1490.1" y="422.1" width="55.8" height="16.9" rx="1.5" fill="#000"/>
<text x="1498.8" y="434.8" font-size="12.2" fill="#fff" font-weight="bold" textLength="41.4" lengthAdjust="spacingAndGlyphs">144.991</text>
<rect x="1438.1" y="439.0" width="50.7" height="16.9" rx="1.5" fill="#f23645"/>
<text x="1442.8" y="451.7" font-size="12.2" fill="#fff" font-weight="bold" textLength="41.8" lengthAdjust="spacingAndGlyphs">SMA:MA</text>
<rect x="1490.1" y="439.0" width="55.8" height="16.9" rx="1.5" fill="#f23645"/>
<text x="1498.8" y="451.7" font-size="12.2" fill="#fff" font-weight="bold" textLength="41.4" lengthAdjust="spacingAndGlyphs">144.846</text>
<rect x="1490.1" y="531.1" width="55.8" height="16.8" rx="1.5" fill="#000"/>
<text x="1498.8" y="543.8" font-size="12.2" fill="#fff" font-weight="bold" textLength="41.4" lengthAdjust="spacingAndGlyphs">141.508</text>
<rect x="1490.1" y="634.3" width="55.8" height="33.5" rx="1.5" fill="#131722"/>
<text x="1498.8" y="647" font-size="12.2" fill="#fff" font-weight="bold" textLength="41.4" lengthAdjust="spacingAndGlyphs">138.255</text>
<text x="1498.8" y="663.8" font-size="12.2" fill="#fff" font-weight="bold" textLength="41.4" lengthAdjust="spacingAndGlyphs">138.175</text>
<path d="M10 834.1H17.9V843.7H13.9V837.9H10Z" fill="#131722"/><circle cx="21" cy="836.1" r="2" fill="#131722"/><path d="M25.5 834.1H29.5L25.7 843.7H21.2Z" fill="#131722"/>
<text x="33.1" y="843.7" font-size="13" fill="#1e222d" textLength="70.3" lengthAdjust="spacingAndGlyphs">TradingView</text>
<text x="1313" y="812.5" font-size="57" font-weight="900" font-style="italic" fill="#fff" stroke="#fff" stroke-width="1.4" stroke-linejoin="round" style="font-family:'Liberation Sans','Noto Sans CJK SC',sans-serif;filter:drop-shadow(1.8px 1.8px 0.8px rgba(10,12,20,0.7))" letter-spacing="4">海马财经</text>
<g opacity="0.45"><line x1="1300" y1="794.5" x2="1554" y2="794.5" stroke="#3c404c" stroke-width="1.1"/><line x1="1490.5" y1="755" x2="1490.5" y2="821" stroke="#3c404c" stroke-width="1.1"/><text x="1498.8" y="781.1" font-size="12.2" fill="#50535e" textLength="41.2" lengthAdjust="spacingAndGlyphs">134.000</text><text x="1352.7" y="812" font-size="12.2" text-anchor="middle" fill="#50535e">Mar</text></g>
<text x="1329" y="851.4" font-size="32" font-weight="bold" font-style="italic" fill="#68cfe0" letter-spacing="10.8" style="filter:drop-shadow(1px 1px 0.5px rgba(70,90,130,0.55))">zzrt01.cn</text>
</svg></body></html>
